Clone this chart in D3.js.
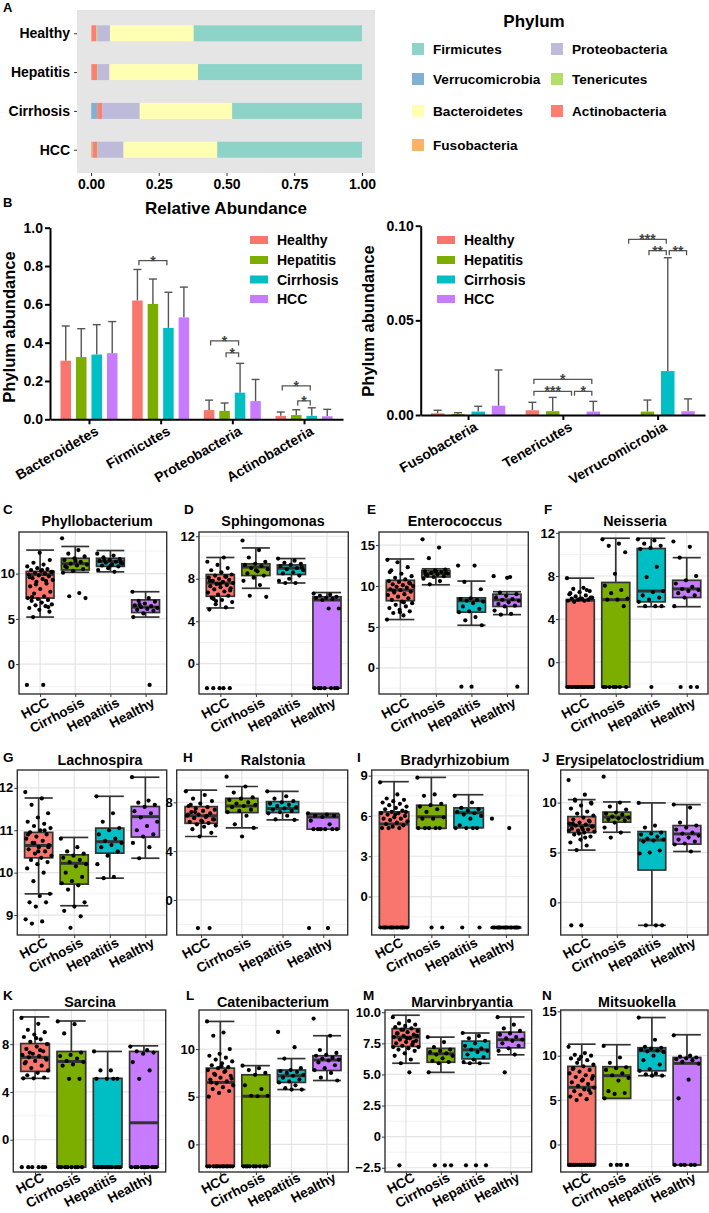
<!DOCTYPE html>
<html>
<head>
<meta charset="utf-8">
<script src="https://cdn.jsdelivr.net/npm/d3@7"></script>
<style>
body { margin: 0; background: #fff; }
svg text { font-family: "Liberation Sans", Arial, sans-serif; font-weight: bold; fill: #000; }
</style>
</head>
<body>
<svg id="fig" width="709" height="1213"></svg>
<script>
// ---------- data: panel A (relative abundance, stacked) ----------
const groupsA = ['Healthy', 'Hepatitis', 'Cirrhosis', 'HCC'];
const phyla = ['Fusobacteria', 'Verrucomicrobia', 'Actinobacteria', 'Tenericutes', 'Proteobacteria', 'Bacteroidetes', 'Firmicutes'];
const shareHealthy   = [0.002, 0.000, 0.018, 0.003, 0.047, 0.309, 0.621];
const shareHepatitis = [0.001, 0.001, 0.021, 0.002, 0.043, 0.327, 0.605];
const shareCirrhosis = [0.001, 0.022, 0.018, 0.000, 0.139, 0.341, 0.479];
const shareHCC       = [0.005, 0.002, 0.017, 0.002, 0.094, 0.346, 0.534];
const phylumColor = ['#FDB462', '#80B1D3', '#FB8072', '#B3DE69', '#BEBADA', '#FFFFB3', '#8DD3C7'];
const legendOrder = ['Firmicutes', 'Verrucomicrobia', 'Bacteroidetes', 'Fusobacteria', 'Proteobacteria', 'Tenericutes', 'Actinobacteria'];

// ---------- data: panel B (mean + upper SD) ----------
const bSeries = ['Healthy', 'Hepatitis', 'Cirrhosis', 'HCC'];
const bColors = ['#F8766D', '#7CAE00', '#00BFC4', '#C77CFF'];
const bMajorPhyla = ['Bacteroidetes', 'Firmicutes', 'Proteobacteria', 'Actinobacteria'];
const bMajorMean  = [[0.306, 0.325, 0.338, 0.345], [0.620, 0.602, 0.477, 0.532], [0.048, 0.044, 0.139, 0.095], [0.018, 0.022, 0.018, 0.016]];
const bMajorUpper = [[0.487, 0.473, 0.494, 0.510], [0.782, 0.732, 0.663, 0.690], [0.100, 0.085, 0.292, 0.208], [0.038, 0.050, 0.060, 0.052]];
const bMajorSig = [[1, 0, 2, 0.828, '*'], [2, 0, 2, 0.409, '*'], [2, 1, 2, 0.347, '*'], [3, 0, 2, 0.174, '*'], [3, 1, 2, 0.096, '*']];
const bMinorPhyla = ['Fusobacteria', 'Tenericutes', 'Verrucomicrobia'];
const bMinorMean  = [[0.0009, 0.0005, 0.0018, 0.0049], [0.0025, 0.0020, 0, 0.0018], [0, 0.0018, 0.0232, 0.0020]];
const bMinorUpper = [[0.0025, 0.0012, 0.0046, 0.0238], [0.0067, 0.0093, null, 0.0072], [null, 0.0079, 0.0831, 0.0085]];
const bMinorSig = [[1, 0, 3, 0.0188, '*'], [1, 0, 2, 0.0125, '***'], [1, 2, 3, 0.0125, '*'], [2, 0, 2, 0.0928, '***'], [2, 1, 2, 0.0868, '**'], [2, 2, 3, 0.0868, '**']];

// ---------- data: box plots C-N ----------
// box stats per group: [lower whisker, q1, median, q3, upper whisker]
const boxGroups = ['HCC', 'Cirrhosis', 'Hepatitis', 'Healthy'];
const boxColors = ['#F8766D', '#7CAE00', '#00BFC4', '#C77CFF'];

const phylloBox = [[5.2, 7.3, 9.9, 10.25, 12.6], [10.15, 10.4, 11.1, 11.7, 13.0], [10.2, 10.8, 11.35, 11.7, 12.55], [5.2, 5.7, 6.3, 7.1, 8.0]];
const phylloPts = [
  [-2.3, -2.3, 5.2, 5.8, 6.0, 6.2, 6.4, 6.5, 6.6, 6.8, 7.0, 7.1, 7.2, 7.3, 7.5, 7.8, 8.0, 8.3, 8.6, 8.9, 9.1, 9.3, 9.4, 9.5, 9.7, 9.8, 9.9, 10.0, 10.1, 10.2, 10.3, 10.4, 10.5, 10.6, 10.8, 11.0, 11.2, 11.5, 12.3, 9.6, 9.2, 8.8, 10.2, 10.4, 7.4, 6.3],
  [13.9, 12.6, 12.2, 11.9, 11.7, 11.5, 11.3, 11.1, 11.0, 10.9, 10.7, 10.5, 10.3, 10.1, 7.85, 7.5, 7.3, 11.4, 10.8],
  [12.2, 12.0, 11.8, 11.6, 11.5, 11.4, 11.3, 11.2, 11.1, 11.0, 10.9, 10.8, 10.6, 10.4, 10.2, 11.5, 11.2, 10.9],
  [8.0, 7.3, 7.0, 6.9, 6.7, 6.5, 6.4, 6.3, 6.2, 6.1, 6.0, 5.9, 5.6, 5.2, -2.3, 6.6]
];
const sphingoBox = [[5.25, 6.35, 7.6, 8.4, 10.0], [7.1, 8.3, 9.1, 9.4, 10.9], [7.6, 8.4, 9.0, 9.3, 9.9], [-2.3, -2.3, 6.0, 6.3, 6.7]];
const sphingoPts = [
  [-2.3, -2.3, -2.3, -2.3, -2.3, 5.1, 5.3, 5.6, 5.8, 6.0, 6.2, 6.4, 6.5, 6.7, 6.8, 7.0, 7.1, 7.2, 7.3, 7.4, 7.5, 7.6, 7.7, 7.8, 7.9, 8.0, 8.1, 8.2, 8.3, 8.4, 8.6, 8.8, 9.0, 9.3, 9.6, 10.0, 6.1, 6.9, 7.5, 7.8, 8.2, 5.9],
  [11.6, 10.7, 10.0, 9.6, 9.4, 9.3, 9.2, 9.0, 8.9, 8.7, 8.5, 8.3, 8.1, 7.8, 7.4, 6.4, 6.3, 8.8],
  [9.9, 9.7, 9.5, 9.4, 9.3, 9.2, 9.0, 8.9, 8.8, 8.6, 8.5, 8.3, 8.0, 7.8, 7.6, 7.6, 9.1],
  [6.6, 6.5, 6.4, 6.3, 6.2, 6.2, 6.1, 6.0, 5.2, 5.2, -2.3, -2.3, -2.3, -2.3, -2.3, -2.3, -2.3]
];
const enteroBox = [[5.9, 8.2, 9.5, 10.7, 13.3], [10.15, 11.1, 11.55, 11.9, 12.1], [5.2, 6.8, 8.2, 8.55, 10.6], [6.5, 7.5, 8.3, 9.0, 9.3]];
const enteroPts = [
  [5.9, 6.4, 6.7, 6.9, 7.1, 7.3, 7.5, 7.7, 7.9, 8.1, 8.3, 8.5, 8.7, 8.9, 9.0, 9.2, 9.3, 9.5, 9.6, 9.8, 9.9, 10.0, 10.1, 10.2, 10.4, 10.5, 10.6, 10.8, 11.0, 11.2, 11.5, 11.9, 12.3, 12.9, 13.2, 8.0, 9.4, 10.3, 6.8, 11.7],
  [15.7, 14.7, 13.4, 12.0, 11.9, 11.8, 11.7, 11.6, 11.5, 11.4, 11.3, 11.2, 11.1, 10.9, 10.6, 10.2, 11.6, 11.8, 11.4],
  [12.5, 12.5, 10.5, 9.6, 8.5, 8.4, 8.3, 8.2, 8.1, 7.9, 7.5, 7.2, 6.9, 6.8, 6.2, 5.8, 5.2, -2.3, -2.3],
  [11.2, 11.1, 9.2, 9.0, 8.8, 8.6, 8.4, 8.3, 8.2, 8.0, 7.8, 7.6, 7.5, 7.0, 6.6, 6.5, -2.3, 11.0]
];
const neissBox = [[-2.3, -2.3, 5.75, 5.8, 7.8], [-2.3, -2.3, 5.8, 7.4, 11.5], [5.15, 5.6, 6.6, 10.55, 11.5], [5.15, 6.0, 6.8, 7.6, 9.7]];
const neissPts = [
  [7.8, 6.9, 6.8, 6.6, 6.5, 6.3, 6.2, 6.1, 6.0, 5.9, 5.9, 5.8, 5.8, 5.7, 5.7, 5.6, 6.0, 5.9, 6.4, 6.7, -2.3, -2.3, -2.3, -2.3, -2.3, -2.3, -2.3, -2.3, -2.3, -2.3, -2.3, -2.3, -2.3, -2.3, -2.3, -2.3],
  [11.4, 11.0, 10.8, 10.2, 8.2, 7.1, 6.7, 6.4, 5.9, 5.8, 5.8, 5.2, -2.3, -2.3, -2.3, -2.3, -2.3, -2.3, -2.3],
  [11.4, 11.3, 11.0, 10.8, 10.6, 10.5, 8.85, 7.9, 6.6, 6.5, 6.2, 6.0, 5.8, 5.6, 5.2, 5.2, 5.2, -2.3],
  [11.2, 10.7, 9.7, 8.0, 7.6, 7.3, 7.0, 6.8, 6.7, 6.6, 6.4, 6.2, 6.0, 5.2, -2.3, -2.3, -2.3]
];
const lachnoBox = [[9.5, 10.35, 10.64, 10.95, 11.76], [9.22, 9.73, 10.22, 10.42, 10.83], [9.87, 10.46, 10.73, 11.05, 11.8], [10.34, 10.84, 11.32, 11.56, 12.25]];
const lachnoPts = [
  [11.9, 11.75, 11.6, 11.4, 11.3, 11.2, 11.15, 11.1, 11.05, 11.0, 10.95, 10.9, 10.85, 10.8, 10.75, 10.7, 10.65, 10.6, 10.55, 10.5, 10.45, 10.4, 10.35, 10.3, 10.25, 10.2, 10.1, 10.0, 9.8, 9.5, 9.45, 9.3, 9.3, 9.2, 8.9, 8.85, 8.8, 10.6, 10.5, 10.9, 11.0, 10.7],
  [10.8, 10.6, 10.5, 10.45, 10.4, 10.35, 10.3, 10.25, 10.2, 10.15, 10.0, 9.9, 9.8, 9.75, 9.7, 9.6, 9.3, 9.2, 9.1, 8.97, 8.7],
  [11.8, 11.4, 11.2, 11.05, 11.0, 10.9, 10.8, 10.75, 10.7, 10.65, 10.6, 10.5, 10.4, 10.2, 9.9, 9.87],
  [12.25, 11.7, 11.65, 11.6, 11.55, 11.45, 11.4, 11.3, 11.2, 11.1, 11.0, 10.9, 10.85, 10.7, 10.6, 10.34]
];
const ralstBox = [[5.2, 6.28, 6.9, 7.65, 9.0], [5.9, 7.16, 7.7, 8.33, 9.3], [6.56, 7.16, 7.5, 8.06, 8.9], [5.8, 5.8, 6.8, 7.0, 7.1]];
const ralstPts = [
  [8.9, 8.6, 8.3, 8.1, 7.9, 7.7, 7.6, 7.5, 7.4, 7.3, 7.2, 7.1, 7.0, 6.9, 6.8, 6.7, 6.6, 6.5, 6.4, 6.3, 6.2, 6.1, 6.0, 5.8, 5.5, 5.2, 7.0, 6.9, 7.2, 6.6, 6.4, 7.8, -2.3, -2.3],
  [10.1, 9.3, 8.8, 8.4, 8.3, 8.2, 8.0, 7.9, 7.8, 7.7, 7.6, 7.4, 7.3, 7.2, 6.9, 6.2, 5.9, 5.2],
  [8.9, 8.5, 8.3, 8.1, 8.0, 7.9, 7.8, 7.7, 7.6, 7.5, 7.4, 7.3, 7.2, 7.1, 6.9, 6.6, 6.56],
  [7.1, 7.0, 6.9, 6.9, 6.8, 6.5, 6.2, 5.8, 5.8, 5.8, 5.8, 5.8, 5.8, -2.3, -2.3]
];
const bradyBox = [[-2.3, -2.3, 5.4, 6.3, 8.55], [5.08, 5.08, 5.94, 6.8, 8.87], [5.13, 5.13, 6.24, 6.6, 7.58], [-2.3, -2.3, -2.3, -2.3, -2.3]];
const bradyPts = [
  [8.5, 7.6, 7.3, 7.2, 7.1, 7.0, 6.9, 6.8, 6.7, 6.6, 6.5, 6.4, 6.3, 6.2, 6.2, 6.1, 6.0, 5.9, 5.8, 5.8, 5.7, 5.6, 5.5, 5.4, 5.3, 5.2, 5.1, 5.1, 5.1, 6.3, 6.1, -2.3, -2.3, -2.3, -2.3, -2.3, -2.3, -2.3, -2.3, -2.3, -2.3, -2.3, -2.3, -2.3, -2.3, -2.3, -2.3],
  [8.85, 7.6, 7.5, 6.9, 6.8, 6.7, 6.5, 6.3, 5.9, 5.8, 5.8, 5.1, 5.1, 5.1, 5.1, 5.1, -2.3, -2.3],
  [7.5, 7.0, 6.6, 6.5, 6.4, 6.3, 6.2, 6.1, 6.0, 5.8, 5.3, 5.1, 5.1, 5.1, 5.1, -2.3, -2.3],
  [5.8, 5.1, -2.3, -2.3, -2.3, -2.3, -2.3, -2.3, -2.3, -2.3, -2.3, -2.3, -2.3, -2.3, -2.3, -2.3, -2.3, -2.3]
];
const erysBox = [[5.24, 7.0, 7.7, 8.6, 10.3], [7.03, 8.04, 8.55, 9.05, 10.07], [-2.3, 3.24, 6.25, 7.1, 9.97], [5.1, 5.84, 6.86, 7.7, 9.8]];
const erysPts = [
  [12.26, 10.8, 10.3, 10.0, 9.7, 9.4, 9.1, 8.9, 8.7, 8.5, 8.3, 8.1, 8.0, 7.9, 7.8, 7.7, 7.6, 7.5, 7.4, 7.3, 7.2, 7.1, 7.0, 6.8, 6.6, 6.3, 6.0, 5.7, 5.24, 7.6, 7.3, 7.9, 8.2, 6.9, 7.2, 6.5, 10.2, 9.9, -2.3, -2.3],
  [12.6, 10.0, 9.6, 9.3, 9.0, 8.9, 8.8, 8.6, 8.5, 8.4, 8.3, 8.2, 8.0, 7.5, 7.0, 6.5],
  [9.97, 7.7, 7.5, 7.0, 6.9, 6.8, 6.6, 6.4, 6.3, 6.2, 6.1, 5.2, 5.0, 4.9, -2.3, -2.3, -2.3],
  [9.8, 9.5, 8.0, 7.7, 7.5, 7.3, 7.0, 6.9, 6.7, 6.5, 6.3, 6.1, 5.9, 5.8, 5.1]
];
const sarcBox = [[5.14, 5.72, 6.9, 8.05, 10.28], [-2.3, -2.3, 6.55, 7.39, 9.94], [-2.3, -2.3, -2.3, 5.14, 7.39], [-2.3, -2.3, 1.42, 7.39, 7.86]];
const sarcPts = [
  [10.2, 9.7, 9.2, 9.0, 8.8, 8.6, 8.4, 8.2, 8.0, 7.8, 7.6, 7.4, 7.2, 7.1, 7.0, 6.9, 6.8, 6.6, 6.4, 6.2, 6.0, 5.8, 5.6, 5.4, 5.2, 5.14, 5.14, 7.5, 7.3, 6.7, 8.5, 6.5, -2.3, -2.3, -2.3, -2.3, -2.3, -2.3],
  [9.9, 9.67, 8.9, 7.3, 7.1, 7.0, 6.8, 6.6, 6.5, 6.3, 6.2, 5.1, 5.1, -2.3, -2.3, -2.3, -2.3, -2.3, -2.3, -2.3, -2.3],
  [7.39, 5.8, 5.8, 5.1, 5.1, 5.1, 5.1, -2.3, -2.3, -2.3, -2.3, -2.3, -2.3, -2.3, -2.3, -2.3, -2.3, -2.3, -2.3],
  [7.8, 7.5, 7.4, 7.3, 7.2, 6.5, 5.8, 5.1, -2.3, -2.3, -2.3, -2.3, -2.3, -2.3, -2.3, -2.3, -2.3, -2.3]
];
const catenBox = [[-2.3, -2.3, 6.5, 8.0, 12.9], [-2.3, -2.3, 5.05, 7.3, 8.26], [5.75, 6.5, 7.2, 7.8, 9.0], [6.7, 7.75, 8.85, 9.3, 11.4]];
const catenPts = [
  [12.9, 11.74, 11.4, 10.0, 9.5, 9.3, 9.1, 8.9, 8.7, 8.5, 8.3, 8.1, 8.0, 7.8, 7.6, 7.4, 7.2, 7.0, 6.8, 6.6, 6.4, 6.2, 6.0, 5.8, 5.6, 5.4, 5.0, 7.7, 7.3, 6.9, 8.2, 6.5, -2.3, -2.3, -2.3, -2.3, -2.3, -2.3, -2.3, -2.3, -2.3, -2.3, -2.3, -2.3],
  [8.26, 8.0, 7.8, 7.5, 7.3, 6.2, 5.8, 5.1, 5.1, 5.05, -2.3, -2.3, -2.3, -2.3, -2.3, -2.3, -2.3, -2.3, -2.3],
  [11.8, 10.2, 9.0, 8.0, 7.8, 7.7, 7.6, 7.5, 7.3, 7.2, 7.0, 6.8, 6.6, 6.5, 6.2, 5.9, 5.75, 5.75],
  [13.2, 11.4, 9.9, 9.6, 9.4, 9.3, 9.1, 9.0, 8.9, 8.8, 8.6, 8.3, 8.0, 7.8, 7.5, 7.0, 6.7]
];
const marvBox = [[5.9, 7.25, 8.0, 8.68, 9.76], [5.17, 5.98, 6.66, 7.1, 8.0], [5.9, 6.25, 6.98, 7.68, 8.33], [6.58, 7.14, 7.79, 8.4, 9.62]];
const marvPts = [
  [9.6, 9.3, 9.1, 9.0, 8.9, 8.8, 8.7, 8.6, 8.5, 8.4, 8.3, 8.2, 8.1, 8.0, 7.9, 7.8, 7.7, 7.6, 7.5, 7.4, 7.3, 7.2, 7.1, 7.0, 6.9, 6.7, 6.5, 6.2, 5.9, 8.1, 7.9, 8.3, 7.6, 8.6, 7.2, 5.17, -2.3],
  [8.0, 7.6, 7.2, 7.0, 6.9, 6.8, 6.7, 6.6, 6.5, 6.3, 6.1, 6.0, 5.9, 5.17, -2.3, -2.3, -2.3],
  [8.33, 8.1, 7.9, 7.7, 7.5, 7.3, 7.1, 7.0, 6.9, 6.8, 6.6, 6.4, 6.2, 6.0, 5.9, 5.9, -2.3, -2.3, -2.3],
  [9.6, 9.0, 8.7, 8.5, 8.3, 8.2, 8.0, 7.9, 7.8, 7.7, 7.5, 7.3, 7.1, 6.9, 6.6, 5.17]
];
const mitsBox = [[-2.3, -2.3, 6.44, 8.8, 11.3], [5.2, 5.2, 7.75, 8.76, 11.24], [7.75, 8.3, 10.56, 10.9, 14.3], [-2.3, -2.3, 9.14, 9.8, 12.36]];
const mitsPts = [
  [11.0, 10.3, 10.1, 10.0, 9.9, 9.7, 9.5, 9.2, 9.0, 8.8, 8.6, 8.4, 8.2, 8.0, 7.8, 7.6, 7.4, 7.2, 7.0, 6.8, 6.6, 6.4, 6.2, 6.0, 5.8, 5.6, 5.4, 5.1, 5.0, 7.7, 7.3, 8.5, 6.1, 9.6, -2.3, -2.3, -2.3, -2.3, -2.3, -2.3, -2.3, -2.3, -2.3, -2.3, -2.3, -2.3, -2.3, -2.3],
  [11.1, 9.8, 9.2, 8.7, 8.6, 8.4, 8.0, 7.8, 7.5, 7.2, 6.0, 5.8, 5.7, 5.2, -2.3, -2.3, -2.3, -2.3],
  [14.3, 11.8, 11.0, 10.9, 10.8, 10.7, 10.6, 10.5, 10.4, 10.0, 9.5, 9.0, 8.5, 8.3, 8.0, 7.9, 7.75, 7.75],
  [12.3, 10.0, 9.9, 9.8, 9.7, 9.6, 9.5, 9.3, 9.1, 7.3, 5.2, -2.3, -2.3, -2.3, -2.3, -2.3]
];

const panels = [
  {letter: 'C', title: 'Phyllobacterium', box: phylloBox, pts: phylloPts, ticks: [0, 5, 10], domain: [-3.3, 14.6], row: 0, left: 19, right: 166.7, lx: 3, tx: 97},
  {letter: 'D', title: 'Sphingomonas', box: sphingoBox, pts: sphingoPts, ticks: [0, 4, 8, 12], domain: [-2.85, 12.4], row: 0, left: 199, right: 348.3, lx: 184, tx: 273},
  {letter: 'E', title: 'Enterococcus', box: enteroBox, pts: enteroPts, ticks: [0, 5, 10, 15], domain: [-3.2, 16.6], row: 0, left: 379, right: 528.3, lx: 367, tx: 455},
  {letter: 'F', title: 'Neisseria', box: neissBox, pts: neissPts, ticks: [0, 4, 8, 12], domain: [-2.95, 12.08], row: 0, left: 559, right: 708, lx: 544, tx: 635},
  {letter: 'G', title: 'Lachnospira', box: lachnoBox, pts: lachnoPts, ticks: [9, 10, 11, 12], domain: [8.53, 12.42], row: 1, left: 17.3, right: 166.7, lx: 3, tx: 100},
  {letter: 'H', title: 'Ralstonia', box: ralstBox, pts: ralstPts, ticks: [0, 4, 8], domain: [-2.87, 10.65], row: 1, left: 176.7, right: 347.7, lx: 183, tx: 273},
  {letter: 'I', title: 'Bradyrhizobium', box: bradyBox, pts: bradyPts, ticks: [0, 3, 6, 9], domain: [-2.86, 9.42], row: 1, left: 371.7, right: 528.3, lx: 357, tx: 455},
  {letter: 'J', title: 'Erysipelatoclostridium', box: erysBox, pts: erysPts, ticks: [0, 5, 10], domain: [-3.27, 13.27], row: 1, left: 560.7, right: 708, lx: 542, tx: 630, ts: 13.8},
  {letter: 'K', title: 'Sarcina', box: sarcBox, pts: sarcPts, ticks: [0, 4, 8], domain: [-2.7, 10.86], row: 2, left: 13.3, right: 165.7, lx: 3, tx: 90},
  {letter: 'L', title: 'Catenibacterium', box: catenBox, pts: catenPts, ticks: [0, 5, 10], domain: [-2.9, 14.1], row: 2, left: 199, right: 348.3, lx: 186, tx: 273},
  {letter: 'M', title: 'Marvinbryantia', box: marvBox, pts: marvPts, ticks: [-2.5, 0, 2.5, 5, 7.5, 10], domain: [-2.84, 10.18], row: 2, left: 385, right: 531.7, lx: 363, tx: 462, fmt: d => d === 0 ? '0' : (d < 0 ? '\u2212' + (-d).toFixed(1) : d.toFixed(1))},
  {letter: 'N', title: 'Mitsuokella', box: mitsBox, pts: mitsPts, ticks: [0, 5, 10, 15], domain: [-3.1, 15.15], row: 2, left: 560.7, right: 708, lx: 542, tx: 637}
];
const rowTop = [532, 770, 1010];
const rowBottom = [694, 935, 1172];
const rowLetterY = [514, 762, 999.5];
const rowTitleY = [526, 765, 1007];
const rowLabelDy = [3, 2, 0];

const svg = d3.select('#fig');

function styleAxis(g, size) {
  g.selectAll('.tick line').attr('stroke', '#333');
  g.selectAll('text').attr('font-size', size);
}

// ================= Panel A =================
const xA = d3.scaleLinear().domain([0, 1]).range([91, 362]);
const yA = d3.scalePoint().domain(groupsA).range([10, 173]).padding(0.6);
svg.append('rect').attr('x', 77).attr('y', 10).attr('width', 298).attr('height', 163).attr('fill', '#E5E5E5');

const shareRows = [shareHealthy, shareHepatitis, shareCirrhosis, shareHCC];
const rowsA = groupsA.map((g, i) => {
  const r = {group: g};
  phyla.forEach((p, j) => { r[p] = shareRows[i][j]; });
  return r;
});
const stackA = d3.stack().keys(phyla)(rowsA);
svg.append('g').selectAll('g').data(stackA).join('g')
  .attr('fill', (d, i) => phylumColor[i])
  .selectAll('rect').data(d => d).join('rect')
  .attr('x', d => xA(d[0]))
  .attr('width', d => Math.max(0, xA(d[1]) - xA(d[0])))
  .attr('y', d => yA(d.data.group) - 8)
  .attr('height', 16);

const axAy = svg.append('g').attr('transform', 'translate(77,0)')
  .call(d3.axisLeft(yA).tickSize(3).tickPadding(4));
axAy.select('.domain').remove();
styleAxis(axAy, 14);
const axAx = svg.append('g').attr('transform', 'translate(0,173)')
  .call(d3.axisBottom(xA).tickValues([0, 0.25, 0.5, 0.75, 1]).tickFormat(d3.format('.2f')).tickSize(3).tickPadding(3));
axAx.select('.domain').remove();
styleAxis(axAx, 14);
svg.append('text').attr('x', 226).attr('y', 214).attr('text-anchor', 'middle').attr('font-size', 17).text('Relative Abundance');
svg.append('text').attr('x', 3).attr('y', 12).attr('font-size', 13).text('A');

// legend
svg.append('text').attr('x', 534).attr('y', 27).attr('text-anchor', 'middle').attr('font-size', 17).text('Phylum');
const legRowY = [49, 79, 111, 145];
legendOrder.forEach((p, i) => {
  const col = i < 4 ? 0 : 1, row = i < 4 ? i : i - 4;
  const lx = col === 0 ? 412 : 551;
  svg.append('rect').attr('x', lx).attr('y', legRowY[row] - 6).attr('width', 12).attr('height', 12)
    .attr('fill', phylumColor[phyla.indexOf(p)]);
  svg.append('text').attr('x', lx + 21).attr('y', legRowY[row] + 5).attr('font-size', 13.6).text(p);
});

// ================= Panel B =================
function barPanel(cfg) {
  const y = d3.scaleLinear().domain(cfg.yDomain).range([cfg.y0, cfg.y1]);
  const x = d3.scalePoint().domain(cfg.phyla).range([cfg.xl, cfg.xr]).padding(cfg.pad);
  const s = d3.scaleBand().domain(bSeries).range([-cfg.half, cfg.half]).paddingInner(cfg.inner);
  const g = svg.append('g');
  const cx = (pi, si) => x(cfg.phyla[pi]) + s(bSeries[si]) + s.bandwidth() / 2;

  cfg.phyla.forEach((ph, pi) => {
    bSeries.forEach((se, si) => {
      const m = cfg.mean[pi][si], up = cfg.upper[pi][si];
      if (up != null) {
        g.append('line').attr('x1', cx(pi, si)).attr('x2', cx(pi, si)).attr('y1', y(m)).attr('y2', y(up))
          .attr('stroke', '#555').attr('stroke-width', 1.4);
        g.append('line').attr('x1', cx(pi, si) - 4).attr('x2', cx(pi, si) + 4).attr('y1', y(up)).attr('y2', y(up))
          .attr('stroke', '#555').attr('stroke-width', 1.4);
      }
      if (m > 0) {
        g.append('rect').attr('x', x(ph) + s(se)).attr('width', s.bandwidth())
          .attr('y', y(m)).attr('height', y(0) - y(m)).attr('fill', bColors[si]);
      }
    });
  });

  cfg.sig.forEach(([pi, a, b, v, lab]) => {
    const x1 = cx(pi, a) + 1.5, x2 = cx(pi, b) - 1.5, yy = y(v);
    g.append('path').attr('d', `M${x1},${yy + 4.5}V${yy}H${x2}V${yy + 4.5}`)
      .attr('fill', 'none').attr('stroke', '#555').attr('stroke-width', 1.3);
    g.append('text').attr('x', (x1 + x2) / 2).attr('y', yy + 5).attr('text-anchor', 'middle')
      .attr('font-size', 14).style('fill', '#444').text(lab);
  });

  const ay = g.append('g').attr('transform', `translate(${cfg.xl},0)`)
    .call(d3.axisLeft(y).tickValues(cfg.ticks).tickFormat(d3.format(cfg.fmt)).tickSize(5).tickSizeOuter(0).tickPadding(2));
  ay.select('.domain').attr('stroke', '#000').attr('stroke-width', 2);
  ay.selectAll('.tick line').attr('stroke', '#000').attr('stroke-width', 2);
  ay.selectAll('text').attr('font-size', 14);

  const ax = g.append('g').attr('transform', `translate(0,${cfg.y0})`)
    .call(d3.axisBottom(x).tickSize(5).tickSizeOuter(0));
  ax.select('.domain').attr('stroke', '#000').attr('stroke-width', 2);
  ax.selectAll('.tick line').attr('stroke', '#000').attr('stroke-width', 2);
  ax.selectAll('text').attr('font-size', 14).attr('text-anchor', 'end')
    .attr('x', 0).attr('y', 0).attr('transform', 'translate(5,6) rotate(-30)');

  g.append('text').attr('transform', `translate(${cfg.titleX},${cfg.titleY}) rotate(-90)`)
    .attr('text-anchor', 'middle').attr('font-size', 16.5).text('Phylum abundance');

  const legY = [240, 260, 279.5, 299];
  bSeries.forEach((se, si) => {
    g.append('rect').attr('x', cfg.legX).attr('y', legY[si] - 4).attr('width', 18).attr('height', 8).attr('fill', bColors[si]);
    g.append('text').attr('x', cfg.legX + 27).attr('y', legY[si] + 5).attr('font-size', 14).text(se);
  });
}

barPanel({phyla: bMajorPhyla, mean: bMajorMean, upper: bMajorUpper, sig: bMajorSig,
  yDomain: [0, 1], y0: 419.3, y1: 227.7, xl: 50, xr: 343, pad: 0.544, half: 28.5, inner: 0.32,
  ticks: [0, 0.2, 0.4, 0.6, 0.8, 1.0], fmt: '.1f', titleX: 15, titleY: 327, legX: 250});
barPanel({phyla: bMinorPhyla, mean: bMinorMean, upper: bMinorUpper, sig: bMinorSig,
  yDomain: [0, 0.1], y0: 415, y1: 225.7, xl: 420.7, xr: 705, pad: 0.5, half: 37.2, inner: 0.335,
  ticks: [0, 0.05, 0.1], fmt: '.2f', titleX: 374, titleY: 321, legX: 437});
svg.append('text').attr('x', 3).attr('y', 207).attr('font-size', 13).text('B');

// ================= Box plots C-N =================
panels.forEach(p => {
  const top = rowTop[p.row], bottom = rowBottom[p.row];
  const g = svg.append('g');
  const x = d3.scalePoint().domain(boxGroups).range([p.left, p.right]).padding(0.6);
  const y = d3.scaleLinear().domain(p.domain).range([bottom, top]);
  const bw = x.step() * 0.79;
  const st = p.ticks[1] - p.ticks[0];
  const minor = d3.range(p.ticks[0] - st / 2, p.domain[1], st).filter(v => v > p.domain[0]);

  g.selectAll('.mn').data(minor).join('line')
    .attr('x1', p.left).attr('x2', p.right).attr('y1', d => y(d)).attr('y2', d => y(d))
    .attr('stroke', '#EFEFEF').attr('stroke-width', 0.8);
  g.selectAll('.mj').data(p.ticks).join('line')
    .attr('x1', p.left).attr('x2', p.right).attr('y1', d => y(d)).attr('y2', d => y(d))
    .attr('stroke', '#E4E4E4').attr('stroke-width', 1.2);
  g.selectAll('.vg').data(boxGroups).join('line')
    .attr('x1', d => x(d)).attr('x2', d => x(d)).attr('y1', top).attr('y2', bottom)
    .attr('stroke', '#E4E4E4').attr('stroke-width', 1.2);

  boxGroups.forEach((gr, i) => {
    const [lo, q1, md, q3, hi] = p.box[i];
    const cx = x(gr);
    const wl = g.append('g').attr('stroke', '#333').attr('stroke-width', 1.7);
    wl.append('line').attr('x1', cx).attr('x2', cx).attr('y1', y(q3)).attr('y2', y(hi));
    wl.append('line').attr('x1', cx).attr('x2', cx).attr('y1', y(q1)).attr('y2', y(lo));
    wl.append('line').attr('x1', cx - bw / 2).attr('x2', cx + bw / 2).attr('y1', y(hi)).attr('y2', y(hi));
    wl.append('line').attr('x1', cx - bw / 2).attr('x2', cx + bw / 2).attr('y1', y(lo)).attr('y2', y(lo));
    g.append('rect').attr('x', cx - bw / 2).attr('width', bw).attr('y', y(q3)).attr('height', Math.max(0.5, y(q1) - y(q3)))
      .attr('fill', boxColors[i]).attr('stroke', '#333').attr('stroke-width', 1.7);
    g.append('line').attr('x1', cx - bw / 2).attr('x2', cx + bw / 2).attr('y1', y(md)).attr('y2', y(md))
      .attr('stroke', '#333').attr('stroke-width', 3);
  });

  p.pts.forEach((arr, i) => {
    const cx = x(boxGroups[i]);
    g.append('g').selectAll('circle').data(arr).join('circle')
      .attr('cx', (d, k) => cx + (((k * 0.618034) % 1) - 0.5) * bw * 0.95)
      .attr('cy', d => y(d)).attr('r', 2.1).attr('fill', '#000');
  });

  g.append('rect').attr('x', p.left).attr('y', top).attr('width', p.right - p.left).attr('height', bottom - top)
    .attr('fill', 'none').attr('stroke', '#333').attr('stroke-width', 1.4);

  const ay = g.append('g').attr('transform', `translate(${p.left},0)`)
    .call(d3.axisLeft(y).tickValues(p.ticks).tickFormat(p.fmt || (d => d)).tickSize(3).tickPadding(1));
  ay.select('.domain').remove();
  styleAxis(ay, 13);
  const ax = g.append('g').attr('transform', `translate(0,${bottom})`)
    .call(d3.axisBottom(x).tickSize(3));
  ax.select('.domain').remove();
  styleAxis(ax, 13.5);
  ax.selectAll('text').attr('text-anchor', 'end').attr('x', 0).attr('y', 0)
    .attr('transform', `translate(5,${rowLabelDy[p.row]}) rotate(-28)`);

  g.append('text').attr('x', p.lx).attr('y', rowLetterY[p.row]).attr('font-size', 13.5).text(p.letter);
  g.append('text').attr('x', p.tx).attr('y', rowTitleY[p.row]).attr('text-anchor', 'middle').attr('font-size', p.ts || 14.3).text(p.title);
});
</script>
</body>
</html>
